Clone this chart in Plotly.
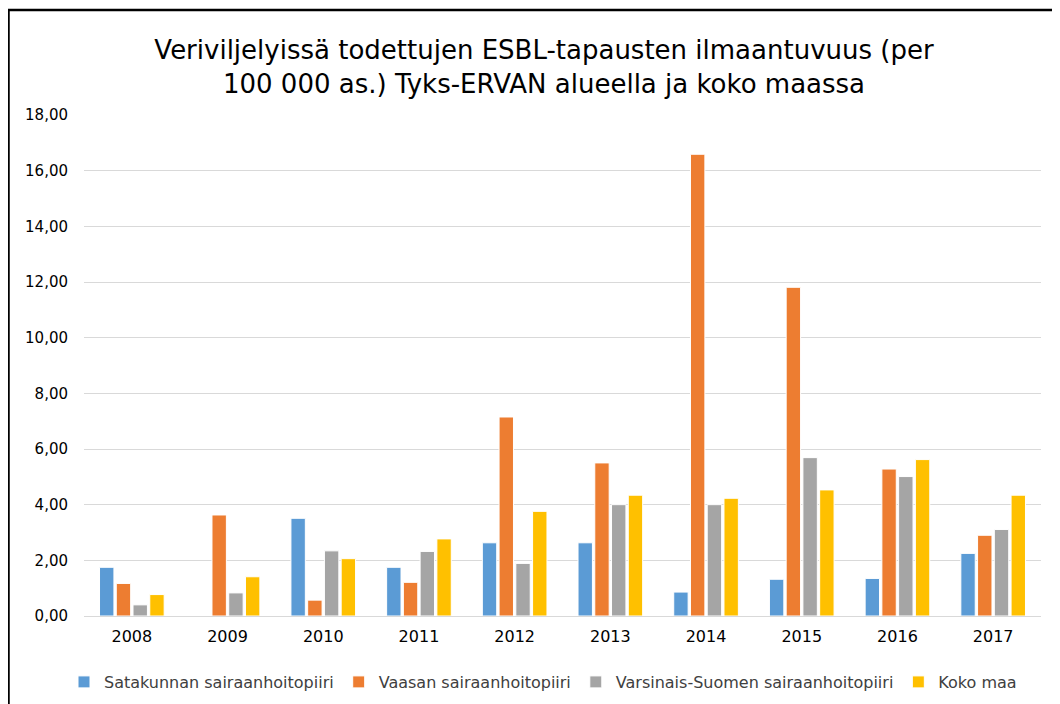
import plotly.graph_objects as go

years = ["2008", "2009", "2010", "2011", "2012", "2013", "2014", "2015", "2016", "2017"]
satakunta = [1.75, 0.00, 3.51, 1.75, 2.63, 2.63, 0.86, 1.32, 1.35, 2.25]
vaasa = [1.17, 3.63, 0.57, 1.21, 7.15, 5.50, 16.59, 11.81, 5.28, 2.90]
varsinais = [0.40, 0.83, 2.34, 2.32, 1.89, 4.00, 4.00, 5.69, 5.01, 3.11]
koko_maa = [0.77, 1.41, 2.06, 2.77, 3.76, 4.34, 4.23, 4.53, 5.62, 4.34]

series = [
    ("Satakunnan sairaanhoitopiiri", satakunta, "#5B9BD5"),
    ("Vaasan sairaanhoitopiiri", vaasa, "#ED7D31"),
    ("Varsinais-Suomen sairaanhoitopiiri", varsinais, "#A5A5A5"),
    ("Koko maa", koko_maa, "#FFC000"),
]

fig = go.Figure()
for name, vals, col in series:
    fig.add_trace(go.Bar(
        name=name, x=years, y=vals,
        marker=dict(color=col, line=dict(color="white", width=1)),
    ))

# page body has an 8px margin: figure sits at screen offset (8, 8)
OFF = 8
W, H = 1052, 696
ml, mt = 84 - OFF, 115 - OFF
mr = W - (1041 - OFF)
mb = H - (616 - OFF)
pw = W - ml - mr
ph = H - mt - mb

def sx(px):  # screen x -> paper x
    return (px - OFF - ml) / pw

def sy(py):  # screen y -> paper y
    return (H - mb - (py - OFF)) / ph

FONT = "DejaVu Sans, Verdana, sans-serif"

fig.update_layout(
    width=W, height=H,
    margin=dict(l=ml, r=mr, t=mt, b=mb, autoexpand=False),
    paper_bgcolor="white", plot_bgcolor="white",
    separators=", ",
    barmode="group",
    bargap=0.30,
    bargroupgap=0.14,
    font=dict(family=FONT, color="#404040"),
    title=dict(
        text="Veriviljelyissä todettujen ESBL-tapausten ilmaantuvuus (per<br>100 000 as.) Tyks-ERVAN alueella ja koko maassa",
        x=(544 - OFF) / W, xref="container", xanchor="center",
        y=1 - (59 - OFF) / H, yanchor="middle",
        font=dict(size=26, color="#000000", family=FONT),
    ),
    yaxis=dict(
        range=[0, 18], tickvals=[0, 2, 4, 6, 8, 10, 12, 14, 16, 18],
        tickformat=".2f",
        showgrid=True, gridcolor="#D9D9D9", gridwidth=1,
        zeroline=True, zerolinecolor="#D9D9D9", zerolinewidth=1,
        showline=False, ticks="outside", ticklen=12, tickcolor="rgba(0,0,0,0)",
        tickfont=dict(size=15, color="#000000"),
    ),
    xaxis=dict(
        showline=False, ticks="outside", ticklen=6, tickcolor="rgba(0,0,0,0)",
        tickfont=dict(size=16, color="#000000"),
    ),
    legend=dict(
        orientation="h", x=sx(543), xanchor="center",
        y=sy(682), yanchor="middle",
        font=dict(size=16, color="#404040"),
        itemwidth=30,
        traceorder="normal",
    ),
    showlegend=True,
)

fig.add_shape(type="line", xref="paper", yref="paper",
              x0=sx(8.5), x1=sx(8.5), y0=sy(9), y1=sy(720),
              line=dict(color="black", width=2.5))
fig.add_shape(type="line", xref="paper", yref="paper",
              x0=sx(7), x1=sx(1070), y0=sy(10), y1=sy(10),
              line=dict(color="black", width=2.5))

fig.write_html("out.html")
